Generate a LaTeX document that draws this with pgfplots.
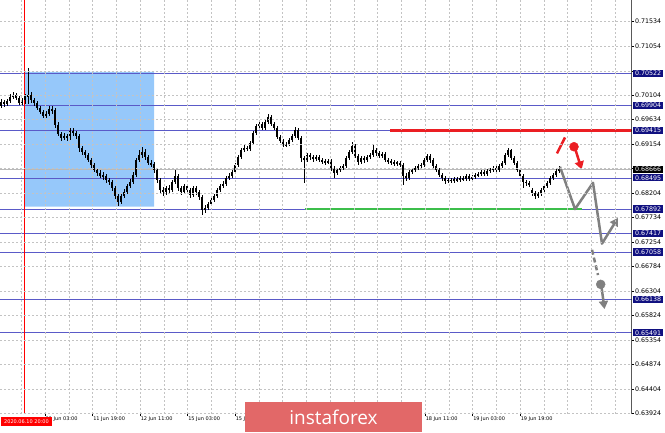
\documentclass[border=0pt]{standalone}
\usepackage{pgfplots}
\pgfplotsset{compat=1.18}
\usepackage{pgfplotstable}
\usepackage{fontspec}
\setmainfont{DejaVu Sans}
\newfontfamily\logofont{Open Sans}
\usetikzlibrary{arrows.meta}
\definecolor{lvl}{RGB}{90,90,200}
\definecolor{lvlbox}{RGB}{16,16,128}
\definecolor{zone}{RGB}{150,200,250}
\definecolor{resred}{RGB}{235,30,35}
\definecolor{supgreen}{RGB}{60,190,75}
\definecolor{scen}{RGB}{128,128,128}
\definecolor{logo}{RGB}{226,104,104}
\definecolor{gridc}{RGB}{195,195,195}

\pgfplotstableread{
x o h l c
1 0.6989 0.7003 0.6985 0.6997
4 0.6997 0.7001 0.6987 0.6993
7 0.6993 0.7003 0.6989 0.6999
10 0.6999 0.7012 0.6995 0.7007
13 0.7007 0.7016 0.7003 0.7010
16 0.7010 0.7014 0.7001 0.7005
19 0.7005 0.7008 0.6991 0.6995
22 0.6995 0.7005 0.6991 0.7001
25 0.7001 0.7012 0.6993 0.7008
28 0.7008 0.7063 0.6993 0.7010
31 0.7010 0.7016 0.6995 0.7001
34 0.7001 0.7005 0.6989 0.6995
37 0.6995 0.6999 0.6981 0.6985
40 0.6985 0.6989 0.6974 0.6977
43 0.6977 0.6981 0.6966 0.6970
46 0.6970 0.6979 0.6966 0.6974
49 0.6974 0.6989 0.6970 0.6983
52 0.6983 0.6989 0.6974 0.6981
55 0.6981 0.6985 0.6946 0.6952
58 0.6952 0.6958 0.6931 0.6935
61 0.6935 0.6939 0.6921 0.6927
64 0.6927 0.6937 0.6923 0.6931
67 0.6931 0.6935 0.6921 0.6927
70 0.6927 0.6946 0.6923 0.6941
73 0.6941 0.6946 0.6931 0.6937
76 0.6937 0.6941 0.6925 0.6931
79 0.6931 0.6935 0.6900 0.6908
82 0.6908 0.6911 0.6894 0.6900
85 0.6900 0.6904 0.6888 0.6894
88 0.6894 0.6898 0.6880 0.6884
91 0.6884 0.6888 0.6869 0.6875
94 0.6875 0.6878 0.6861 0.6865
97 0.6865 0.6869 0.6853 0.6859
100 0.6859 0.6865 0.6849 0.6853
103 0.6855 0.6861 0.6845 0.6851
106 0.6853 0.6857 0.6840 0.6845
109 0.6845 0.6849 0.6836 0.6842
112 0.6842 0.6845 0.6824 0.6830
115 0.6830 0.6834 0.6809 0.6814
118 0.6814 0.6818 0.6795 0.6803
121 0.6803 0.6818 0.6799 0.6814
124 0.6814 0.6828 0.6811 0.6822
127 0.6822 0.6838 0.6818 0.6834
130 0.6834 0.6847 0.6830 0.6842
133 0.6842 0.6861 0.6838 0.6855
136 0.6855 0.6888 0.6851 0.6884
139 0.6884 0.6904 0.6880 0.6894
142 0.6894 0.6910 0.6888 0.6900
145 0.6900 0.6906 0.6884 0.6890
148 0.6890 0.6894 0.6875 0.6878
151 0.6878 0.6884 0.6871 0.6877
154 0.6877 0.6880 0.6859 0.6865
157 0.6865 0.6869 0.6840 0.6845
160 0.6845 0.6849 0.6820 0.6826
163 0.6826 0.6832 0.6814 0.6822
166 0.6822 0.6834 0.6816 0.6830
169 0.6830 0.6836 0.6820 0.6826
172 0.6826 0.6845 0.6822 0.6842
175 0.6842 0.6865 0.6838 0.6853
178 0.6853 0.6857 0.6824 0.6830
181 0.6830 0.6834 0.6816 0.6822
184 0.6822 0.6838 0.6818 0.6834
187 0.6834 0.6838 0.6820 0.6826
190 0.6826 0.6830 0.6811 0.6816
193 0.6816 0.6834 0.6812 0.6830
196 0.6830 0.6834 0.6816 0.6822
199 0.6822 0.6826 0.6807 0.6812
202 0.6812 0.6816 0.6778 0.6787
205 0.6787 0.6797 0.6781 0.6791
208 0.6791 0.6803 0.6787 0.6799
211 0.6799 0.6811 0.6795 0.6807
214 0.6807 0.6818 0.6803 0.6814
217 0.6814 0.6830 0.6811 0.6826
220 0.6826 0.6838 0.6822 0.6834
223 0.6834 0.6844 0.6830 0.6838
226 0.6838 0.6853 0.6834 0.6849
229 0.6849 0.6859 0.6845 0.6853
232 0.6853 0.6865 0.6849 0.6861
235 0.6861 0.6878 0.6857 0.6875
238 0.6875 0.6894 0.6871 0.6890
241 0.6890 0.6908 0.6886 0.6904
244 0.6904 0.6913 0.6900 0.6908
247 0.6908 0.6911 0.6902 0.6906
250 0.6906 0.6921 0.6902 0.6917
253 0.6917 0.6941 0.6913 0.6937
256 0.6937 0.6954 0.6933 0.6950
259 0.6950 0.6960 0.6946 0.6954
262 0.6954 0.6958 0.6942 0.6946
265 0.6946 0.6962 0.6942 0.6958
268 0.6958 0.6974 0.6954 0.6968
271 0.6968 0.6972 0.6950 0.6954
274 0.6954 0.6958 0.6942 0.6946
277 0.6946 0.6950 0.6925 0.6929
280 0.6929 0.6933 0.6917 0.6921
283 0.6921 0.6925 0.6910 0.6913
286 0.6913 0.6919 0.6910 0.6915
289 0.6915 0.6927 0.6911 0.6923
292 0.6923 0.6935 0.6919 0.6931
295 0.6931 0.6948 0.6927 0.6942
298 0.6942 0.6946 0.6923 0.6927
301 0.6927 0.6931 0.6880 0.6888
304 0.6888 0.6892 0.6840 0.6884
307 0.6884 0.6898 0.6880 0.6894
310 0.6894 0.6898 0.6884 0.6890
313 0.6890 0.6894 0.6880 0.6886
316 0.6886 0.6894 0.6882 0.6890
319 0.6890 0.6894 0.6880 0.6884
322 0.6884 0.6888 0.6877 0.6882
325 0.6882 0.6886 0.6875 0.6880
328 0.6880 0.6886 0.6877 0.6882
331 0.6882 0.6886 0.6863 0.6869
334 0.6869 0.6873 0.6849 0.6859
337 0.6859 0.6869 0.6855 0.6865
340 0.6865 0.6873 0.6861 0.6869
343 0.6869 0.6877 0.6865 0.6873
346 0.6873 0.6892 0.6869 0.6888
349 0.6888 0.6904 0.6884 0.6900
352 0.6900 0.6919 0.6896 0.6911
355 0.6911 0.6915 0.6888 0.6892
358 0.6892 0.6896 0.6875 0.6880
361 0.6880 0.6892 0.6877 0.6888
364 0.6888 0.6892 0.6878 0.6884
367 0.6884 0.6894 0.6880 0.6890
370 0.6890 0.6898 0.6886 0.6894
373 0.6894 0.6913 0.6890 0.6904
376 0.6904 0.6908 0.6892 0.6898
379 0.6898 0.6902 0.6888 0.6892
382 0.6892 0.6900 0.6888 0.6896
385 0.6896 0.6900 0.6880 0.6884
388 0.6884 0.6888 0.6877 0.6882
391 0.6882 0.6886 0.6875 0.6880
394 0.6880 0.6884 0.6873 0.6878
397 0.6880 0.6882 0.6873 0.6877
400 0.6878 0.6882 0.6871 0.6875
403 0.6875 0.6878 0.6836 0.6853
406 0.6853 0.6859 0.6844 0.6849
409 0.6849 0.6865 0.6845 0.6861
412 0.6861 0.6869 0.6857 0.6865
415 0.6865 0.6873 0.6861 0.6869
418 0.6869 0.6877 0.6865 0.6873
421 0.6873 0.6878 0.6869 0.6875
424 0.6875 0.6888 0.6871 0.6884
427 0.6884 0.6896 0.6880 0.6892
430 0.6892 0.6896 0.6878 0.6884
433 0.6884 0.6888 0.6869 0.6873
436 0.6873 0.6877 0.6861 0.6865
439 0.6865 0.6869 0.6851 0.6855
442 0.6855 0.6859 0.6844 0.6849
445 0.6849 0.6853 0.6838 0.6844
448 0.6844 0.6849 0.6840 0.6845
451 0.6845 0.6849 0.6840 0.6844
454 0.6844 0.6851 0.6840 0.6847
457 0.6847 0.6851 0.6842 0.6845
460 0.6845 0.6853 0.6842 0.6849
463 0.6849 0.6853 0.6844 0.6847
466 0.6847 0.6857 0.6844 0.6853
469 0.6853 0.6857 0.6844 0.6847
472 0.6847 0.6855 0.6844 0.6851
475 0.6851 0.6859 0.6847 0.6855
478 0.6855 0.6861 0.6851 0.6857
481 0.6857 0.6865 0.6853 0.6861
484 0.6861 0.6865 0.6853 0.6857
487 0.6857 0.6867 0.6853 0.6863
490 0.6863 0.6869 0.6859 0.6865
493 0.6865 0.6873 0.6861 0.6869
496 0.6869 0.6873 0.6861 0.6865
499 0.6865 0.6877 0.6861 0.6873
502 0.6873 0.6882 0.6869 0.6878
505 0.6878 0.6898 0.6875 0.6894
508 0.6894 0.6908 0.6890 0.6904
511 0.6904 0.6906 0.6884 0.6888
514 0.6888 0.6892 0.6875 0.6878
517 0.6878 0.6882 0.6861 0.6865
520 0.6865 0.6869 0.6849 0.6853
523 0.6853 0.6857 0.6830 0.6842
526 0.6842 0.6845 0.6834 0.6840
529 0.6840 0.6844 0.6832 0.6836
532 0.6826 0.6830 0.6814 0.6820
535 0.6820 0.6824 0.6809 0.6814
538 0.6814 0.6822 0.6811 0.6818
541 0.6818 0.6830 0.6814 0.6826
544 0.6826 0.6838 0.6822 0.6834
547 0.6834 0.6844 0.6830 0.6840
550 0.6840 0.6853 0.6836 0.6849
553 0.6849 0.6859 0.6845 0.6855
556 0.6855 0.6867 0.6851 0.6863
559 0.6863 0.6873 0.6859 0.6867
}\candles

\begin{document}
\begin{tikzpicture}
\useasboundingbox (0pt,0pt) rectangle (665pt,432pt);
\begin{axis}[
  at={(0pt,432pt)}, anchor=north west,
  scale only axis, width=631.5pt, height=413.5pt,
  xmin=0, xmax=631.5, ymin=0.63924, ymax=0.71947,
  axis on top,
  axis line style={draw=none},
  xtick pos=left, ytick pos=right,
  xticklabel pos=left, yticklabel pos=right,
  tick align=outside, major tick length=2.5pt, minor tick length=0pt,
  tick style={black, line width=0.5pt},
  xtick={45.05,92.55,140.05,187.55,235.05,425.05,472.55,520.05},
  xticklabels={11 Jun 03:00,11 Jun 19:00,12 Jun 11:00,15 Jun 03:00,15 Jun 19:00,18 Jun 11:00,19 Jun 03:00,19 Jun 19:00},
  minor xtick={21.3,68.8,116.3,163.8,211.3,258.8,282.55,306.3,330.05,353.8,377.55,401.3,448.8,496.3,543.8,567.55,591.3,615.05},
  ytick={0.63924,0.64404,0.64874,0.65354,0.65824,0.66304,0.66784,0.67254,0.67734,0.68204,0.68674,0.69154,0.69634,0.70104,0.70574,0.71054,0.71534},
  yticklabels={0.63924,0.64404,0.64874,0.65354,0.65824,0.66304,0.66784,0.67254,0.67734,0.68204,,0.69154,0.69634,0.70104,,0.71054,0.71534},
  xmajorgrids, xminorgrids, ymajorgrids,
  major grid style={gridc, dash pattern=on 2pt off 2pt, line width=0.5pt},
  minor grid style={gridc, dash pattern=on 2pt off 2pt, line width=0.5pt},
  xticklabel style={font=\fontsize{5}{6}\selectfont, anchor=north west, inner sep=1pt, xshift=-0.5pt},
  yticklabel style={font=\fontsize{6.3}{7}\selectfont, anchor=west, inner sep=1pt},
]
% highlighted zone
\addplot[fill=zone, draw=none, forget plot] coordinates {(24,0.7055) (154,0.7055) (154,0.6794) (24,0.6794) (24,0.7055)};
% level lines
\addplot[lvl, line width=0.8pt] coordinates {(0,0.70522) (631.5,0.70522)};
\addplot[lvl, line width=0.8pt] coordinates {(0,0.69904) (631.5,0.69904)};
\addplot[lvl, line width=0.8pt] coordinates {(0,0.69415) (631.5,0.69415)};
\addplot[lvl, line width=0.8pt] coordinates {(0,0.68495) (631.5,0.68495)};
\addplot[lvl, line width=0.8pt] coordinates {(0,0.67892) (631.5,0.67892)};
\addplot[lvl, line width=0.8pt] coordinates {(0,0.67417) (631.5,0.67417)};
\addplot[lvl, line width=0.8pt] coordinates {(0,0.67058) (631.5,0.67058)};
\addplot[lvl, line width=0.8pt] coordinates {(0,0.66138) (631.5,0.66138)};
\addplot[lvl, line width=0.8pt] coordinates {(0,0.65491) (631.5,0.65491)};
% bid line
\addplot[gray!55, line width=0.7pt] coordinates {(0,0.68666) (631.5,0.68666)};
% vertical marker
\addplot[red, line width=0.8pt] coordinates {(24,0.63924) (24,0.71947)};
% resistance & support
\addplot[resred, line width=2.5pt] coordinates {(390,0.69415) (631.5,0.69415)};
\addplot[supgreen, line width=2.5pt] coordinates {(305,0.67892) (582,0.67892)};
% candles: wicks
\addplot[draw=none, mark=none, forget plot,
  error bars/.cd, y dir=both, y explicit, error mark=none,
  error bar style={draw=black, solid, line width=0.6pt}]
  table[x=x, y expr={(\thisrow{h}+\thisrow{l})/2}, y error expr={(\thisrow{h}-\thisrow{l})/2}] {\candles};
% candles: bodies
\addplot[draw=none, mark=none, forget plot,
  error bars/.cd, y dir=both, y explicit, error mark=none,
  error bar style={draw=black, solid, line width=2pt}]
  table[x=x, y expr={(\thisrow{o}+\thisrow{c})/2}, y error expr={max(abs(\thisrow{o}-\thisrow{c})/2,0.00006)}] {\candles};
% scenario (grey)
\addplot[scen, line width=2.5pt, line join=round, -{Triangle[length=8pt,width=9pt]}] coordinates {(560,0.6871) (575,0.6789) (593,0.6840) (602,0.6722) (618,0.6772)};
\addplot[scen, line width=2.5pt, dash pattern=on 5pt off 3pt] coordinates {(592,0.6710) (598,0.6661)};
\addplot[scen, only marks, mark=*, mark size=4.5pt] coordinates {(600.7,0.6643)};
\addplot[scen, line width=2.5pt, -{Triangle[length=8pt,width=9pt]}] coordinates {(601.5,0.6638) (604.5,0.6595)};
% scenario (red)
\addplot[resred, line width=2.5pt] coordinates {(557,0.6897) (565,0.6928)};
\addplot[resred, only marks, mark=*, mark size=4.5pt] coordinates {(574,0.6910)};
\addplot[resred, line width=2.5pt, -{Triangle[length=8pt,width=9pt]}] coordinates {(575.5,0.6904) (581.7,0.6866)};
% right frame
\draw[black, line width=0.8pt] (rel axis cs:1,0) -- (rel axis cs:1,1);
\coordinate (L1) at (axis cs:631.5,0.70522);
\coordinate (L2) at (axis cs:631.5,0.69904);
\coordinate (L3) at (axis cs:631.5,0.69415);
\coordinate (L4) at (axis cs:631.5,0.68495);
\coordinate (L5) at (axis cs:631.5,0.67892);
\coordinate (L6) at (axis cs:631.5,0.67417);
\coordinate (L7) at (axis cs:631.5,0.67058);
\coordinate (L8) at (axis cs:631.5,0.66138);
\coordinate (L9) at (axis cs:631.5,0.65491);
\coordinate (LB) at (axis cs:631.5,0.68666);
\coordinate (D) at (axis cs:26.5,0.63924);
\end{axis}
\tikzset{lvllab/.style={fill=lvlbox, text=white, font=\fontsize{6.3}{7}\selectfont, inner xsep=1.8pt, inner ysep=1.2pt, anchor=west}}
\node[lvllab] at ([xshift=1.5pt]L1) {0.70522};
\node[lvllab] at ([xshift=1.5pt]L2) {0.69904};
\node[lvllab] at ([xshift=1.5pt]L3) {0.69415};
\node[lvllab] at ([xshift=1.5pt]L4) {0.68495};
\node[lvllab] at ([xshift=1.5pt]L5) {0.67892};
\node[lvllab] at ([xshift=1.5pt]L6) {0.67417};
\node[lvllab] at ([xshift=1.5pt]L7) {0.67058};
\node[lvllab] at ([xshift=1.5pt]L8) {0.66138};
\node[lvllab] at ([xshift=1.5pt]L9) {0.65491};
\node[lvllab, fill=black] at ([xshift=1.5pt]LB) {0.68666};
\node[fill=red, text=white, font=\fontsize{5}{6}\selectfont, inner xsep=3.5pt, inner ysep=3pt, anchor=north] at ([yshift=-3pt]D) {2020.06.10 20:00};
\fill[logo] (245pt,0pt) rectangle (422pt,30pt);
\node[text=white, font=\logofont\fontsize{19}{20}\selectfont] at (333.5pt,15pt) {instaforex};
\end{tikzpicture}
\end{document}
